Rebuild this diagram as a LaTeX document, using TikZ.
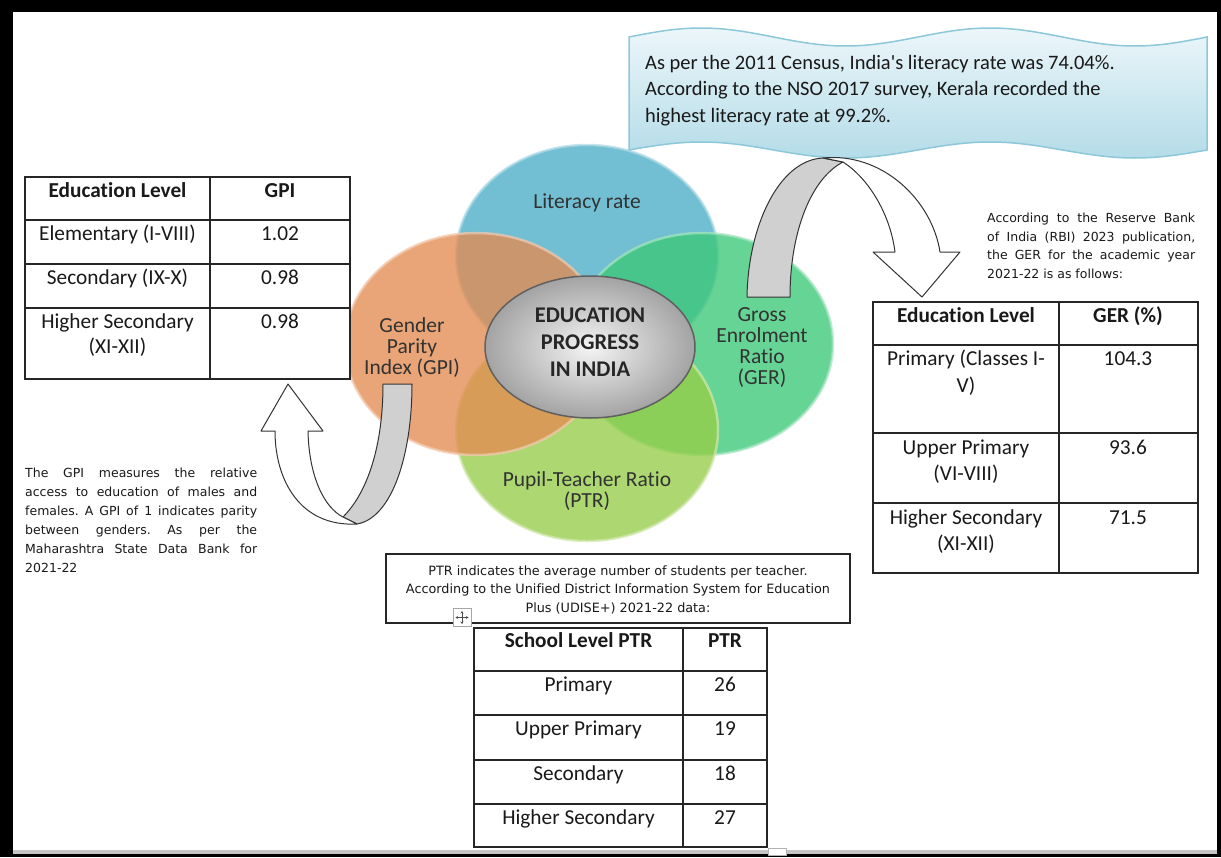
\documentclass[tikz,border=0pt]{standalone}
\usepackage{fontspec}
\setmainfont{Carlito}[Ligatures={TeX,NoCommon}]
\newfontfamily\verd{DejaVu Sans}[Ligatures={TeX,NoCommon}]
\usetikzlibrary{shapes.geometric,arrows.meta}
\definecolor{cblue}{RGB}{75,172,198}
\definecolor{corange}{RGB}{228,140,82}
\definecolor{cgreen}{RGB}{60,200,120}
\definecolor{clgreen}{RGB}{150,205,72}
\definecolor{bantop}{RGB}{236,246,250}
\definecolor{banbot}{RGB}{180,220,232}
\definecolor{banline}{RGB}{140,200,218}
\definecolor{txt}{RGB}{25,25,25}
\definecolor{lbltxt}{RGB}{50,50,50}
\definecolor{bandgray}{RGB}{208,208,208}
\tikzset{
  venn/.style={ellipse, minimum width=262pt, minimum height=222pt, inner sep=0pt,
    fill opacity=0.78, draw opacity=0.7, line width=2.5pt},
  lbl/.style={font=\fontsize{21.5}{21}\selectfont, text=lbltxt, inner sep=0pt, anchor=base},
  coretxt/.style={font=\fontsize{22.4}{27}\selectfont\bfseries, text=black!85, inner sep=0pt, anchor=base},
  bantxt/.style={font=\fontsize{20.5}{26}\selectfont, text=txt, inner sep=0pt, anchor=base west},
  cell/.style={font=\fontsize{21.3}{26}\selectfont, text=txt, inner sep=0pt, anchor=base},
  hcell/.style={cell, font=\fontsize{21.3}{26}\selectfont\bfseries},
  tline/.style={draw=black!85, line width=1.2pt},
  para/.style={font=\verd\fontsize{12.5}{18}\selectfont\frenchspacing, text=txt, inner sep=0pt, anchor=base west},
  ptrtxt/.style={font=\verd\fontsize{12.8}{18}\selectfont\frenchspacing, text=txt, inner sep=0pt, anchor=base},
  arrline/.style={draw=black!80, line width=1pt, line join=round},
}
\begin{document}
\begin{tikzpicture}[x=1pt,y=-1pt]
\useasboundingbox (0,0) rectangle (1221,857);
% frame
\fill[black] (0,0) rectangle (1221,857);
\fill[white] (13,12) rectangle (1217,851);
\fill[gray!45] (13,850) rectangle (1217,854);

% venn circles
\node[venn, fill=cblue, draw=cblue!45!white] (lit) at (587,256) {};
\node[venn, fill=cgreen, draw=cgreen!45!white] (ger) at (702,344) {};
\node[venn, fill=clgreen, draw=clgreen!45!white] (ptr) at (587,430) {};
\node[venn, fill=corange, draw=corange!45!white] (gpi) at (476,344) {};

% core
\node[ellipse, minimum width=210pt, minimum height=142pt, inner sep=0pt,
  shading=radial, inner color=gray!8, outer color=gray!72,
  draw=gray!75!black, line width=1.5pt] (core) at (590,347) {};
\node[coretxt] (c1) at (590,322) {EDUCATION};
\node[coretxt] (c2) at (590,349) {PROGRESS};
\node[coretxt] (c3) at (590,376) {IN INDIA};

% labels
\node[lbl] (l1) at (587,208) {Literacy rate};
\node[lbl] (g1) at (412,332) {Gender};
\node[lbl] (g2) at (412,353) {Parity};
\node[lbl] (g3) at (412,374) {Index (GPI)};
\node[lbl] (e1) at (762,321) {Gross};
\node[lbl] (e2) at (762,342) {Enrolment};
\node[lbl] (e3) at (762,363) {Ratio};
\node[lbl] (e4) at (762,384) {(GER)};
\node[lbl] (p1) at (587,486) {Pupil-Teacher Ratio};
\node[lbl] (p2) at (587,507) {(PTR)};

% banner
\path[top color=bantop, bottom color=banbot, draw=banline, line width=1.5pt]
  plot[domain=629:1207, samples=80, smooth] (\x,{37-9*sin(1.24567*(\x-629))})
  -- plot[domain=1207:629, samples=80, smooth] (\x,{150-8*sin(1.24567*(\x-629))})
  -- cycle;
\node[bantxt] (b1) at (645,69) {As per the 2011 Census, India\textquotesingle s literacy rate was 74.04\%.};
\node[bantxt] (b2) at (645,95) {According to the NSO 2017 survey, Kerala recorded the};
\node[bantxt] (b3) at (645,122) {highest literacy rate at 99.2\%.};

% top curved arrow (GER)
\path[arrline, fill=bandgray] (747,297) .. controls (748,228) and (778,160) .. (823,158)
  -- (843,162) .. controls (812,178) and (790,230) .. (790,297) -- cycle;
\path[arrline, fill=white] (823,158) .. controls (882,152) and (932,200) .. (940,252)
  -- (960,252) -- (922,297) -- (873,252) -- (895,252)
  .. controls (890,213) and (868,178) .. (843,162) -- cycle;

% left curved arrow (GPI)
\path[arrline, fill=bandgray] (383,384) -- (412,384) .. controls (412,455) and (392,518) .. (357,524)
  -- (343,517) .. controls (368,492) and (383,445) .. (383,384) -- cycle;
\path[arrline, fill=white] (357,524) .. controls (300,527) and (275,480) .. (275,431)
  -- (261,431) -- (288,384) -- (323,431) -- (308,431)
  .. controls (309,478) and (325,508) .. (343,517) -- cycle;

% GPI table
\fill[white] (25,177) rectangle (350,379);
\draw[tline] (25,177) rectangle (350,379);
\draw[tline] (210,177) -- (210,379);
\draw[tline] (25,220) -- (350,220);
\draw[tline] (25,264) -- (350,264);
\draw[tline] (25,308) -- (350,308);
\node[hcell] (t11) at (117.5,197) {Education Level};
\node[hcell] (t12) at (280,197) {GPI};
\node[cell] (t21) at (117.5,240) {Elementary (I-VIII)};
\node[cell] (t22) at (280,240) {1.02};
\node[cell] (t31) at (117.5,284) {Secondary (IX-X)};
\node[cell] (t32) at (280,284) {0.98};
\node[cell] (t41) at (117.5,328) {Higher Secondary};
\node[cell] (t41b) at (117.5,353) {(XI-XII)};
\node[cell] (t42) at (280,328) {0.98};

% GPI paragraph
\node[para] (q1) at (25,477) {\makebox[232pt][s]{The GPI measures the relative}};
\node[para] (q2) at (25,496) {\makebox[232pt][s]{access to education of males and}};
\node[para] (q3) at (25,515) {\makebox[232pt][s]{females. A GPI of 1 indicates parity}};
\node[para] (q4) at (25,534) {\makebox[232pt][s]{between genders. As per the}};
\node[para] (q5) at (25,553) {\makebox[232pt][s]{Maharashtra State Data Bank for}};
\node[para] (q6) at (25,572) {2021-22};

% RBI paragraph
\node[para] (r1) at (987,222) {\makebox[208pt][s]{According to the Reserve Bank}};
\node[para] (r2) at (987,241) {\makebox[208pt][s]{of India (RBI) 2023 publication,}};
\node[para] (r3) at (987,259) {\makebox[208pt][s]{the GER for the academic year}};
\node[para] (r4) at (987,278) {2021-22 is as follows:};

% GER table
\fill[white] (873,302) rectangle (1198,573);
\draw[tline] (873,302) rectangle (1198,573);
\draw[tline] (1059,302) -- (1059,573);
\draw[tline] (873,345) -- (1198,345);
\draw[tline] (873,433) -- (1198,433);
\draw[tline] (873,503) -- (1198,503);
\node[hcell] (u11) at (966,322) {Education Level};
\node[hcell] (u12) at (1128,322) {GER (\%)};
\node[cell] (u21) at (966,365) {Primary (Classes I-};
\node[cell] (u21b) at (966,392) {V)};
\node[cell] (u22) at (1128,365) {104.3};
\node[cell] (u31) at (966,454) {Upper Primary};
\node[cell] (u31b) at (966,480) {(VI-VIII)};
\node[cell] (u32) at (1128,454) {93.6};
\node[cell] (u41) at (966,524) {Higher Secondary};
\node[cell] (u41b) at (966,550) {(XI-XII)};
\node[cell] (u42) at (1128,524) {71.5};

% PTR box
\draw[tline, fill=white] (386,554) rectangle (850,623);
\node[ptrtxt] (s1) at (618,575) {PTR indicates the average number of students per teacher.};
\node[ptrtxt] (s2) at (618,593) {According to the Unified District Information System for Education};
\node[ptrtxt] (s3) at (618,612) {Plus (UDISE+) 2021-22 data:};

% move handle
\node[draw=gray!70, fill=white, minimum size=18pt, inner sep=0pt, line width=0.8pt] (mv) at (462,617.5) {};
\draw[gray!60!black, line width=0.7pt, {Stealth[length=2.5pt,width=3pt]}-{Stealth[length=2.5pt,width=3pt]}]
  ([yshift=6.5pt]mv.center) -- ([yshift=-6.5pt]mv.center);
\draw[gray!60!black, line width=0.7pt, {Stealth[length=2.5pt,width=3pt]}-{Stealth[length=2.5pt,width=3pt]}]
  ([xshift=-6.5pt]mv.center) -- ([xshift=6.5pt]mv.center);

% PTR table
\fill[white] (474,628) rectangle (767,847);
\draw[tline] (474,628) rectangle (767,847);
\draw[tline] (683,628) -- (683,847);
\draw[tline] (474,671) -- (767,671);
\draw[tline] (474,715) -- (767,715);
\draw[tline] (474,760) -- (767,760);
\draw[tline] (474,804) -- (767,804);
\node[hcell] (v11) at (578.5,647) {School Level PTR};
\node[hcell] (v12) at (725,647) {PTR};
\node[cell] (v21) at (578.5,691) {Primary};
\node[cell] (v22) at (725,691) {26};
\node[cell] (v31) at (578.5,735) {Upper Primary};
\node[cell] (v32) at (725,735) {19};
\node[cell] (v41) at (578.5,780) {Secondary};
\node[cell] (v42) at (725,780) {18};
\node[cell] (v51) at (578.5,824) {Higher Secondary};
\node[cell] (v52) at (725,824) {27};
\node[draw=gray!60, fill=white, minimum width=18pt, minimum height=7pt, inner sep=0pt] (rs) at (777,852) {};
\end{tikzpicture}
\end{document}
